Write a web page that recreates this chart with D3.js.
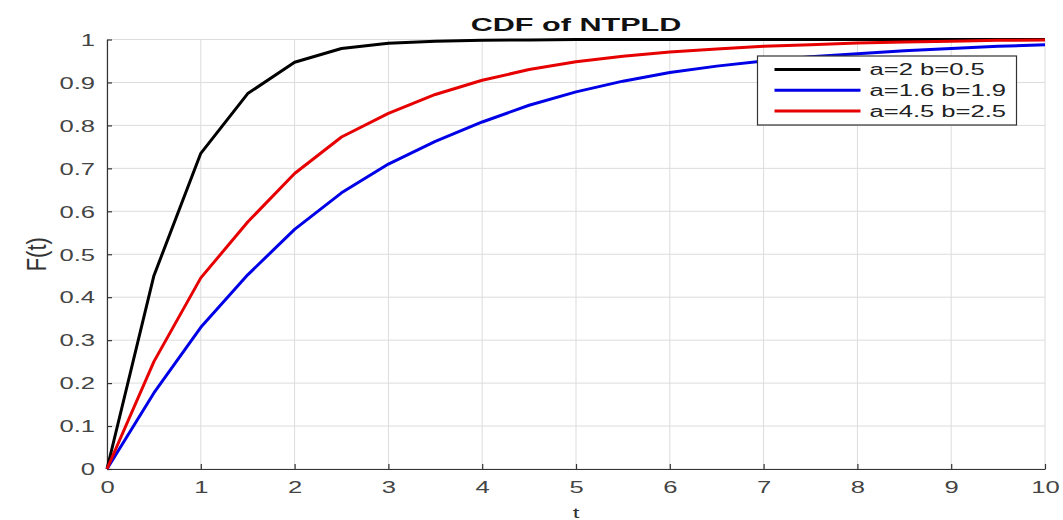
<!DOCTYPE html>
<html>
<head>
<meta charset="utf-8">
<script src="https://cdn.jsdelivr.net/npm/d3@7"></script>
<style>
  body { margin: 0; background: #fff; }
  svg { display: block; font-family: "Liberation Sans", Arial, sans-serif; }
</style>
</head>
<body>
<svg id="chart" width="1063" height="520"></svg>
<script>
// sample points of t
const tValues = [0, 0.5, 1, 1.5, 2, 2.5, 3, 3.5, 4, 4.5, 5, 5.5, 6, 6.5, 7, 7.5, 8, 8.5, 9, 9.5, 10];
const cdfA2B05 = [0, 0.45, 0.735, 0.874, 0.947, 0.979, 0.991, 0.996, 0.998, 0.999, 1, 1, 1, 1, 1, 1, 1, 1, 1, 1, 1];
const cdfA16B19 = [0, 0.177, 0.33, 0.452, 0.558, 0.643, 0.71, 0.763, 0.808, 0.847, 0.878, 0.903, 0.923, 0.938, 0.95, 0.96, 0.967, 0.974, 0.979, 0.984, 0.988];
const cdfA45B25 = [0, 0.25, 0.445, 0.575, 0.688, 0.773, 0.828, 0.872, 0.905, 0.93, 0.948, 0.961, 0.971, 0.978, 0.984, 0.988, 0.992, 0.994, 0.996, 0.998, 0.999];
const seriesNames = ['a=2 b=0.5', 'a=1.6 b=1.9', 'a=4.5 b=2.5'];
const seriesColors = ['#000000', '#0000e6', '#e60000'];
const xTicks = [0, 1, 2, 3, 4, 5, 6, 7, 8, 9, 10];
const yTicks = [0, 0.1, 0.2, 0.3, 0.4, 0.5, 0.6, 0.7, 0.8, 0.9, 1];

// the picture's text is stretched sideways
const stretch = 1.6;

const series = [cdfA2B05, cdfA16B19, cdfA45B25].map((vals, i) => ({
  name: seriesNames[i],
  color: seriesColors[i],
  points: vals.map((v, j) => ({ t: tValues[j], f: v })),
}));

const svg = d3.select('#chart');
const margin = { left: 107, right: 18, top: 39.5, bottom: 51 };
const width = 1063 - margin.left - margin.right;
const height = 520 - margin.top - margin.bottom;

const x = d3.scaleLinear().domain([0, 10]).range([0, width]);
const y = d3.scaleLinear().domain([0, 1]).range([height, 0]);

const g = svg.append('g').attr('transform', `translate(${margin.left},${margin.top})`);

// grid
g.append('g')
  .selectAll('line')
  .data(xTicks)
  .join('line')
  .attr('x1', (d) => x(d)).attr('x2', (d) => x(d))
  .attr('y1', 0).attr('y2', height)
  .attr('stroke', '#dcdcdc').attr('stroke-width', 1);

g.append('g')
  .selectAll('line')
  .data(yTicks)
  .join('line')
  .attr('x1', 0).attr('x2', width)
  .attr('y1', (d) => y(d)).attr('y2', (d) => y(d))
  .attr('stroke', '#dcdcdc').attr('stroke-width', 1);

// axes, ticks pointing inward like matlab
const xAxis = g.append('g')
  .attr('transform', `translate(0,${height})`)
  .call(d3.axisBottom(x).tickValues(xTicks).tickSizeInner(-5).tickSizeOuter(0).tickPadding(14).tickFormat(d3.format('d')));

const yAxis = g.append('g')
  .call(d3.axisLeft(y).tickValues(yTicks).tickSizeInner(-5).tickSizeOuter(0).tickPadding(12).tickFormat((d) => (d === 0 || d === 1 ? String(d) : d3.format('.1f')(d))));

[xAxis, yAxis].forEach((ax) => {
  ax.select('.domain').attr('stroke', '#333').attr('stroke-width', 1.2);
  ax.selectAll('.tick line').attr('stroke', '#333').attr('stroke-width', 1.2);
  ax.selectAll('.tick text')
    .attr('fill', '#444')
    .attr('transform', `scale(${stretch},1)`)
    .style('font-size', '16px')
    .style('font-family', '"Liberation Sans", Arial, sans-serif');
});
yAxis.selectAll('.tick text').attr('dy', '0.36em').attr('x', -12 / stretch);
xAxis.selectAll('.tick text').attr('dy', '0.6em');

// curves
const line = d3.line()
  .x((d) => x(d.t))
  .y((d) => y(d.f));

g.append('g')
  .selectAll('path')
  .data(series)
  .join('path')
  .attr('fill', 'none')
  .attr('stroke', (d) => d.color)
  .attr('stroke-width', 3)
  .attr('stroke-linejoin', 'round')
  .attr('d', (d) => line(d.points));

// title and labels
svg.append('text')
  .attr('transform', `translate(${margin.left + width / 2},31) scale(1.7,1)`)
  .attr('text-anchor', 'middle')
  .style('font-size', '18px')
  .style('font-weight', 'bold')
  .attr('fill', '#111')
  .text('CDF of NTPLD');

svg.append('text')
  .attr('transform', `translate(${margin.left + width / 2},518) scale(${stretch},1)`)
  .attr('text-anchor', 'middle')
  .style('font-size', '15px')
  .attr('fill', '#333')
  .text('t');

svg.append('text')
  .attr('transform', `translate(46,${margin.top + height / 2}) rotate(-90) scale(1,1.25)`)
  .attr('text-anchor', 'middle')
  .style('font-size', '22px')
  .attr('fill', '#333')
  .text('F(t)');

// legend
const legend = svg.append('g').attr('transform', 'translate(757.5,56)');
legend.append('rect')
  .attr('width', 259)
  .attr('height', 69)
  .attr('fill', '#fff')
  .attr('stroke', '#333')
  .attr('stroke-width', 1.2);

const rows = legend.selectAll('g.row')
  .data(series)
  .join('g')
  .attr('class', 'row')
  .attr('transform', (d, i) => `translate(0,${13.5 + i * 20.7})`);

rows.append('line')
  .attr('x1', 17).attr('x2', 103)
  .attr('stroke', (d) => d.color)
  .attr('stroke-width', 3);

rows.append('text')
  .attr('transform', `translate(112,0) scale(${stretch},1)`)
  .attr('dy', '0.36em')
  .style('font-size', '16px')
  .attr('fill', '#222')
  .text((d) => d.name);
</script>
</body>
</html>
